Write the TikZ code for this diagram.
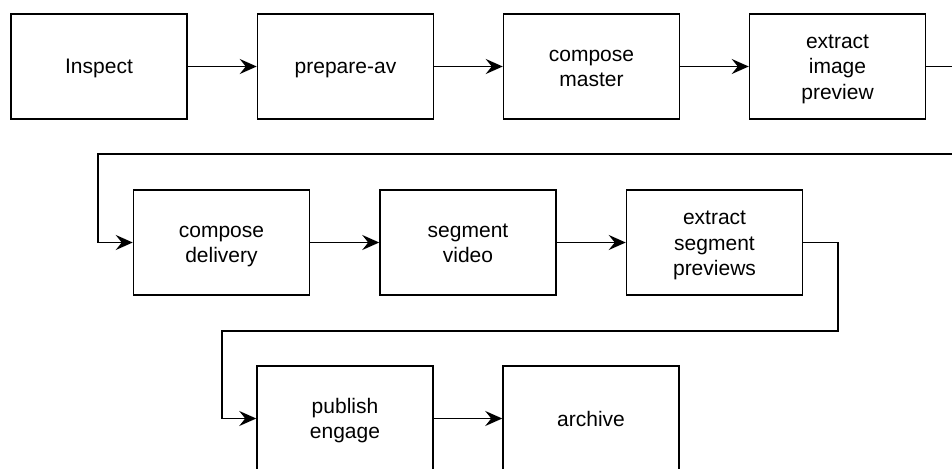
\documentclass[tikz,border=0pt]{standalone}
\usepackage{fontspec}
\setmainfont{Liberation Sans}
\usetikzlibrary{arrows.meta}

% centred, slightly lowered text block that keeps its natural size
\newcommand\steptext[1]{\raisebox{-2.4pt}[\height][\depth]{\begin{tabular}{@{}c@{}}#1\end{tabular}}}

\begin{document}
\begin{tikzpicture}[x=1pt, y=-1pt,
  stepbox/.style={draw, line width=1.5pt, minimum width=176pt, minimum height=105pt,
    inner sep=0pt, font=\fontsize{21}{25.5}\selectfont},
  flow/.style={line width=1.5pt, -{Stealth[length=17pt, width=15pt, inset=6pt]}}]
  % canvas
  \clip (0,0) rectangle (952,468);
  \fill[white] (0,0) rectangle (952,468);

  % first row
  \node[stepbox] (inspect)  at (99,66.5)    {\steptext{Inspect}};
  \node[stepbox] (prepare)  at (345.5,66.5) {\steptext{prepare-av}};
  \node[stepbox] (master)   at (591.5,66.5) {\steptext{compose\\master}};
  \node[stepbox] (imgprev)  at (837.5,66.5) {\steptext{extract\\image\\preview}};

  % second row
  \node[stepbox] (delivery) at (221.5,242.5) {\steptext{compose\\delivery}};
  \node[stepbox] (segment)  at (468,242.5)   {\steptext{segment\\video}};
  \node[stepbox] (segprev)  at (714.5,242.5) {\steptext{extract\\segment\\previews}};

  % third row
  \node[stepbox] (publish)  at (345,418.5) {\steptext{publish\\engage}};
  \node[stepbox] (archive)  at (591,418.5) {\steptext{archive}};

  % connectors within rows
  \draw[flow] (inspect) -- (prepare);
  \draw[flow] (prepare) -- (master);
  \draw[flow] (master) -- (imgprev);
  \draw[flow] (delivery) -- (segment);
  \draw[flow] (segment) -- (segprev);
  \draw[flow] (publish) -- (archive);

  % wrap-around connectors between rows
  \draw[flow] (imgprev.east) -- ++(40,0) |- (98,154) |- (delivery.west);
  \draw[flow] (segprev.east) -- (838,242.5) |- (222,331) |- (publish.west);
\end{tikzpicture}
\end{document}
